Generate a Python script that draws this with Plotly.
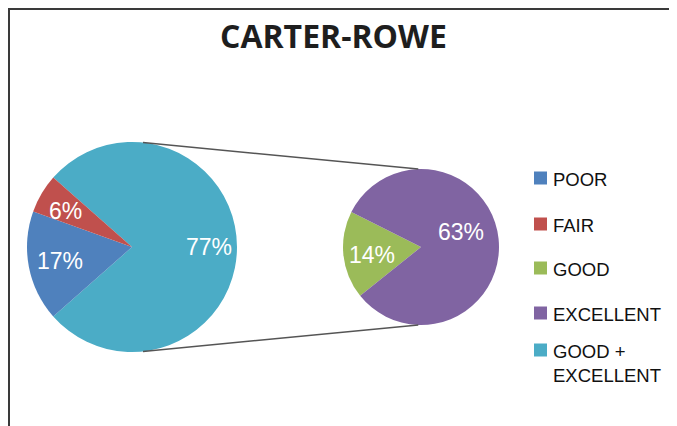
import math
import plotly.graph_objects as go

# page body has an 8px margin: draw the figure 8px smaller and shift coords
OFF = 8
W, H = 677 - OFF, 426 - OFF

# ---- data ----
title_text = "CARTER-ROWE"
main_labels = ["GOOD +<br>EXCELLENT", "POOR", "FAIR"]
main_values = [77, 17, 6]
sub_labels = ["GOOD", "EXCELLENT"]
sub_values = [14, 63]
legend_labels = ["POOR", "FAIR", "GOOD", "EXCELLENT", "GOOD +<br>EXCELLENT"]

# ---- styles ----
colors = {
    "POOR": "#4F81BD",
    "FAIR": "#C0504D",
    "GOOD": "#9BBB59",
    "EXCELLENT": "#8064A2",
    "GOOD +<br>EXCELLENT": "#4BACC6",
}
LBL_FONT = dict(family="Liberation Sans, Arial, sans-serif", size=23, color="white")

def px_x(x):
    return (x - OFF) / W

def px_y(y):
    return 1 - (y - OFF) / H

# pie geometry (pixels in the reference frame)
c1, r1 = (132, 247), 105
c2, r2 = (421, 247), 78

def dom(c, r):
    return dict(x=[px_x(c[0] - r), px_x(c[0] + r)],
                y=[px_y(c[1] + r), px_y(c[1] - r)])

ge_share = main_values[0] / sum(main_values)
rot1 = 90 - ge_share * 360 / 2
good_share = sub_values[0] / sum(sub_values)
rot2 = 270 - good_share * 360 / 2 - 6

fig = go.Figure()
fig.add_trace(go.Pie(
    labels=main_labels, values=main_values, sort=False,
    direction="clockwise", rotation=rot1,
    domain=dom(c1, r1),
    marker=dict(colors=[colors[l] for l in main_labels], line=dict(width=0)),
    textinfo="none", showlegend=False, hoverinfo="label+value",
))
fig.add_trace(go.Pie(
    labels=sub_labels, values=sub_values, sort=False,
    direction="clockwise", rotation=rot2,
    domain=dom(c2, r2),
    marker=dict(colors=[colors[l] for l in sub_labels], line=dict(width=0)),
    textinfo="none", showlegend=False, hoverinfo="label+value",
))

annotations = []

# slice value labels, placed at each slice's mid-angle
def slice_labels(values, rot, c, r, rfrac, dang):
    total = sum(values)
    start = rot
    for i, v in enumerate(values):
        span = v / total * 360
        mid_compass = start + span / 2 + dang[i]
        a = math.radians(90 - mid_compass)
        x = c[0] + rfrac[i] * r * math.cos(a)
        y = c[1] - rfrac[i] * r * math.sin(a)
        annotations.append(dict(xref="paper", yref="paper", x=px_x(x), y=px_y(y),
                                xanchor="center", yanchor="middle", showarrow=False,
                                text=f"{v}%", font=LBL_FONT))
        start += span

slice_labels(main_values, rot1, c1, r1, [0.73, 0.70, 0.72], [0, 0, -2])
slice_labels(sub_values, rot2, c2, r2, [0.63, 0.55], [-3, -14])

shapes = []
# connector lines between pies
def on_circle(c, r, ang_deg):
    a = math.radians(ang_deg)
    return (c[0] + r * math.cos(a), c[1] - r * math.sin(a))

for a1, a2 in [(84, 92), (-84, -92)]:
    p1 = on_circle(c1, r1, a1)
    p2 = on_circle(c2, r2, a2)
    shapes.append(dict(type="line", xref="paper", yref="paper",
                       x0=px_x(p1[0]), y0=px_y(p1[1]),
                       x1=px_x(p2[0]), y1=px_y(p2[1]),
                       line=dict(color="#555555", width=1.5)))

# frame (top and left)
shapes.append(dict(type="line", xref="paper", yref="paper",
                   x0=px_x(8), y0=px_y(9), x1=1, y1=px_y(9),
                   line=dict(color="#3a3a3a", width=2)))
shapes.append(dict(type="line", xref="paper", yref="paper",
                   x0=px_x(9), y0=px_y(8), x1=px_x(9), y1=0,
                   line=dict(color="#3a3a3a", width=2)))

# legend (manual)
leg_y = [178, 224, 268, 313, 350]
for lab, yy in zip(legend_labels, leg_y):
    shapes.append(dict(type="rect", xref="paper", yref="paper",
                       x0=px_x(534), x1=px_x(547),
                       y0=px_y(yy + 6.5), y1=px_y(yy - 6.5),
                       fillcolor=colors[lab], line=dict(width=0)))
    annotations.append(dict(
        xref="paper", yref="paper", x=px_x(551), y=px_y(yy - 11.5),
        xanchor="left", yanchor="top", align="left", showarrow=False,
        text=lab, font=dict(family="Liberation Sans, Arial, sans-serif", size=18.5, color="#111111")))

# title
annotations.append(dict(
    xref="paper", yref="paper", x=px_x(333), y=px_y(35),
    xanchor="center", yanchor="middle", showarrow=False,
    text="<b>" + title_text + "</b>",
    font=dict(family="Open Sans, sans-serif", size=32, color="#1e1e1e")))

fig.update_layout(
    width=W, height=H,
    margin=dict(l=0, r=0, t=0, b=0),
    paper_bgcolor="white", plot_bgcolor="white",
    shapes=shapes, annotations=annotations,
    showlegend=False,
)

fig.write_html("out.html")
